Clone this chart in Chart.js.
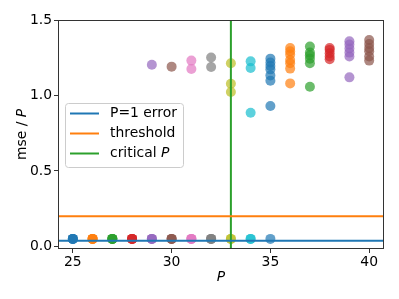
<!DOCTYPE html>
<html lang="en">
<head>
    <meta charset="UTF-8">
    <title>mse / P</title>
    <script src="https://cdn.jsdelivr.net/npm/chart.js"></script>
    <style>
        html, body { margin: 0; padding: 0; background: #fff; }
        #box { position: relative; width: 399px; height: 299px; }
    </style>
</head>
<body>
    <div id="box"><canvas id="grafico"></canvas></div>
<script>
var pValues = [25, 26, 27, 28, 29, 30, 31, 32, 33, 34, 35, 36, 37, 38, 39, 40];
var mseRuns = [
    [0.05, 0.05, 0.05, 0.05],
    [0.05, 0.05, 0.05, 0.05],
    [0.05, 0.05, 0.05, 0.05],
    [0.05, 0.05, 0.05, 0.05],
    [0.05, 0.05, 0.05, 1.204],
    [0.05, 0.05, 0.05, 1.191],
    [0.05, 0.05, 0.05, 1.231, 1.175],
    [0.05, 0.05, 0.05, 1.251, 1.189],
    [0.05, 0.05, 1.213, 1.078, 1.023],
    [0.05, 0.05, 1.226, 1.182, 0.886],
    [0.05, 1.244, 1.218, 1.195, 1.173, 1.133, 1.098, 0.930],
    [1.315, 1.293, 1.271, 1.235, 1.213, 1.178, 1.080],
    [1.324, 1.284, 1.266, 1.244, 1.213, 1.058],
    [1.315, 1.302, 1.280, 1.258, 1.240],
    [1.359, 1.337, 1.311, 1.284, 1.258, 1.120],
    [1.368, 1.341, 1.315, 1.293, 1.258, 1.231]
];
var p1Error = 0.038;
var threshold = 0.2;
var criticalP = 33;
var xTicks = [25, 30, 35, 40];
var yTicks = [0, 0.5, 1.0, 1.5];
var xLim = [24.25, 40.75];
var yLim = [-0.017, 1.5];

var tab10 = ['31,119,180', '255,127,14', '44,160,44', '214,39,40', '148,103,189',
             '140,86,75', '227,119,194', '127,127,127', '188,189,34', '23,190,207'];
var fonte = '"DejaVu Sans", sans-serif';

var datasets = [];
datasets.push({ type: 'line', label: 'P=1 error', data: [{x: xLim[0], y: p1Error}, {x: xLim[1], y: p1Error}],
    borderColor: 'rgb(31,119,180)', borderWidth: 2, pointRadius: 0, order: 0 });
datasets.push({ type: 'line', label: 'threshold', data: [{x: xLim[0], y: threshold}, {x: xLim[1], y: threshold}],
    borderColor: 'rgb(255,127,14)', borderWidth: 2, pointRadius: 0, order: 0 });
datasets.push({ type: 'line', label: 'critical P', data: [{x: criticalP, y: yLim[0]}, {x: criticalP, y: yLim[1]}],
    borderColor: 'rgb(44,160,44)', borderWidth: 2, pointRadius: 0, order: 0 });

for (var i = 0; i < pValues.length; i++) {
    var pts = [];
    for (var j = 0; j < mseRuns[i].length; j++) {
        pts.push({ x: pValues[i], y: mseRuns[i][j] });
    }
    datasets.push({ type: 'scatter', label: 'P' + pValues[i], data: pts,
        backgroundColor: 'rgba(' + tab10[i % 10] + ',0.7)', borderWidth: 0,
        pointRadius: 5, pointHoverRadius: 5, order: 1 });
}

var extras = {
    id: 'extras',
    afterDraw: function (chart) {
        var ctx = chart.ctx;
        var a = chart.chartArea;
        ctx.save();
        ctx.strokeStyle = '#333';
        ctx.lineWidth = 1;
        ctx.strokeRect(a.left + 0.5, a.top + 0.5, a.right - a.left - 1, a.bottom - a.top - 1);

        ctx.fillStyle = '#000';
        ctx.textAlign = 'center';
        ctx.textBaseline = 'middle';
        ctx.font = 'italic 13.9px ' + fonte;
        ctx.fillText('P', (a.left + a.right) / 2, 277);

        ctx.save();
        ctx.translate(22, (a.top + a.bottom) / 2);
        ctx.rotate(-Math.PI / 2);
        ctx.font = '13.9px ' + fonte;
        var t1 = 'mse / ';
        ctx.font = '13.9px ' + fonte;
        var w1 = ctx.measureText(t1).width;
        ctx.font = 'italic 13.9px ' + fonte;
        var w2 = ctx.measureText('P').width;
        ctx.textAlign = 'left';
        ctx.font = '13.9px ' + fonte;
        ctx.fillText(t1, -(w1 + w2) / 2, 0);
        ctx.font = 'italic 13.9px ' + fonte;
        ctx.fillText('P', -(w1 + w2) / 2 + w1, 0);
        ctx.restore();

        // legenda
        var lx = 65, ly = 103, lw = 118, lh = 64;
        ctx.fillStyle = 'rgba(255,255,255,0.8)';
        ctx.strokeStyle = '#ccc';
        ctx.lineWidth = 1;
        ctx.beginPath();
        ctx.roundRect(lx + 0.5, ly + 0.5, lw, lh, 3);
        ctx.fill();
        ctx.stroke();
        var cores = ['rgb(31,119,180)', 'rgb(255,127,14)', 'rgb(44,160,44)'];
        var textos = ['P=1 error', 'threshold', 'critical '];
        ctx.textAlign = 'left';
        for (var k = 0; k < 3; k++) {
            var yy = 113.5 + k * 20;
            ctx.strokeStyle = cores[k];
            ctx.lineWidth = 2;
            ctx.beginPath();
            ctx.moveTo(70, yy);
            ctx.lineTo(99, yy);
            ctx.stroke();
            ctx.fillStyle = '#000';
            ctx.font = '13.9px ' + fonte;
            ctx.fillText(textos[k], 110, yy);
            if (k == 2) {
                var wc = ctx.measureText(textos[k]).width;
                ctx.font = 'italic 13.9px ' + fonte;
                ctx.fillText('P', 110 + wc, yy);
            }
        }
        ctx.restore();
    }
};

new Chart(document.getElementById('grafico'), {
    type: 'scatter',
    data: { datasets: datasets },
    options: {
        responsive: true,
        maintainAspectRatio: false,
        animation: false,
        events: [],
        layout: { padding: { top: 20, right: 15, left: 0, bottom: 0 } },
        plugins: { legend: { display: false }, tooltip: { enabled: false } },
        scales: {
            x: {
                type: 'linear', min: xLim[0], max: xLim[1],
                afterBuildTicks: function (s) { s.ticks = xTicks.map(function (v) { return { value: v }; }); },
                afterFit: function (s) { s.height = 50; },
                grid: { drawOnChartArea: false, drawTicks: true, tickLength: 4, color: '#333' },
                border: { display: false },
                ticks: { color: '#000', padding: 1, maxRotation: 0, font: { family: fonte, size: 13.9 } }
            },
            y: {
                type: 'linear', min: yLim[0], max: yLim[1],
                afterBuildTicks: function (s) { s.ticks = yTicks.map(function (v) { return { value: v }; }); },
                afterFit: function (s) { s.width = 58; },
                grid: { drawOnChartArea: false, drawTicks: true, tickLength: 4, color: '#333' },
                border: { display: false },
                ticks: { color: '#000', padding: 2, font: { family: fonte, size: 13.9 },
                    callback: function (v) { return v.toFixed(1); } }
            }
        }
    },
    plugins: [extras]
});
</script>
</body>
</html>
